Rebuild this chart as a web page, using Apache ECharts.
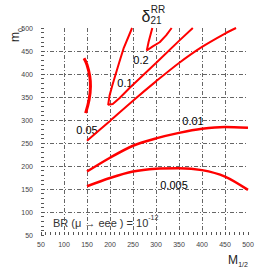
<!DOCTYPE html>
<html>
<head>
<meta charset="utf-8">
<script src="https://cdn.jsdelivr.net/npm/echarts@6/dist/echarts.min.js"></script>
<style>html,body{margin:0;padding:0;background:#fff}#c{width:276px;height:276px}</style>
</head>
<body>
<div id="c"></div>
<script>
// ---- data ----
const xTicks = [50, 100, 150, 200, 250, 300, 350, 400, 450, 500];
const yTicks = [50, 100, 150, 200, 250, 300, 350, 400, 450, 500];
const contourLabels = ['0.2', '0.1', '0.05', '0.01', '0.005'];
const curve0005 = [[150,156],[200,174],[250,188],[300,194],[350,195],[400,191],[450,177],[500,148]];
const curve001  = [[150,188],[200,218],[250,244],[300,260],[350,272],[400,281],[450,285],[500,283]];
const curve005  = [[150,255],[200,298],[250,342],[300,384],[350,424],[400,459],[450,488],[474,500]];
const curve01   = [[248,500],[230,457],[220,425],[210,392],[205,375],[199,353],[196,333],[206,335],[221,348],[243,370],[262,388],[300,424],[350,472],[380,500]];
const curve02   = [[292,500],[284,470],[280,451],[293,460],[308,469],[322,484],[334,500]];
const curveA    = [[143.5,434],[150,420],[156,395],[157.5,373],[154.5,344],[147,315]];

const chart = echarts.init(document.getElementById('c'), null, {renderer: 'svg'});
const FONT = '"Liberation Sans", Arial, sans-serif';
const gridStyle = {show: true, showMinLine: false, showMaxLine: false,
  lineStyle: {color: '#666', width: 1, type: [4, 2, 1, 2]}};
const lbl = {fontFamily: FONT, fontSize: 7, color: '#444'};
function line(data, w, smooth) {
  return {type: 'line', data: data, showSymbol: false, smooth: smooth, clip: true,
    lineStyle: {color: '#ff0000', width: w}, silent: true};
}
const txt = (x, y, t, size, extra) => ({type: 'text', x: x, y: y,
  style: Object.assign({text: t, font: size + 'px ' + FONT, fill: '#000',
  align: 'center', verticalAlign: 'middle'}, (extra || {}))});

chart.setOption({
  animation: false,
  grid: {left: 41, right: 28, top: 28, bottom: 41},
  xAxis: {type: 'value', min: xTicks[0], max: xTicks[xTicks.length - 1], interval: 50,
    axisLine: {show: false},
    axisTick: {show: true, inside: true, length: 3, lineStyle: {color: '#555'}},
    minorTick: {show: true, splitNumber: 5, length: 3, lineStyle: {color: '#555'}},
    axisLabel: Object.assign({margin: 6}, lbl),
    splitLine: gridStyle},
  yAxis: {type: 'value', min: yTicks[0], max: yTicks[yTicks.length - 1], interval: 50,
    axisLine: {show: false},
    axisTick: {show: true, inside: true, length: 3, lineStyle: {color: '#555'}},
    minorTick: {show: true, splitNumber: 5, length: 3, lineStyle: {color: '#555'}},
    axisLabel: Object.assign({margin: 8}, lbl),
    splitLine: gridStyle},
  series: [
    line(curve0005, 2.5, 0.3),
    line(curve001, 2.5, 0.3),
    line(curve005, 2, 0.3),
    line(curve01, 2, false),
    line(curve02, 2, false),
    line(curveA, 3, 0.4)
  ],
  graphic: [
    txt(141, 60, contourLabels[0], 11),
    txt(125, 83, contourLabels[1], 11),
    txt(87, 130, contourLabels[2], 11),
    txt(193, 121, contourLabels[3], 11),
    txt(174, 185, contourLabels[4], 11),
    txt(146, 16, 'δ', 16, {fill: '#222'}),
    txt(158, 9, 'RR', 10, {fill: '#222'}),
    txt(156, 20, '21', 10, {fill: '#222'}),
    {type: 'text', x: 53, y: 214, style: {
      text: '{a|BR (μ → eee ) = 10}{s|-12}', align: 'left', verticalAlign: 'top',
      rich: {
        a: {fontFamily: FONT, fontSize: 11, fill: '#333', lineHeight: 14, verticalAlign: 'bottom'},
        s: {fontFamily: FONT, fontSize: 7, fill: '#333', lineHeight: 14, verticalAlign: 'top'}
      }}},
    txt(233, 260, 'M', 12, {fill: '#222'}),
    txt(243, 264, '1/2', 7, {fill: '#222'}),
    Object.assign(txt(15, 37, 'm', 12, {fill: '#222'}), {rotation: Math.PI / 2}),
    Object.assign(txt(20, 30, '0', 7, {fill: '#222'}), {rotation: Math.PI / 2})
  ]
});
</script>
</body>
</html>
